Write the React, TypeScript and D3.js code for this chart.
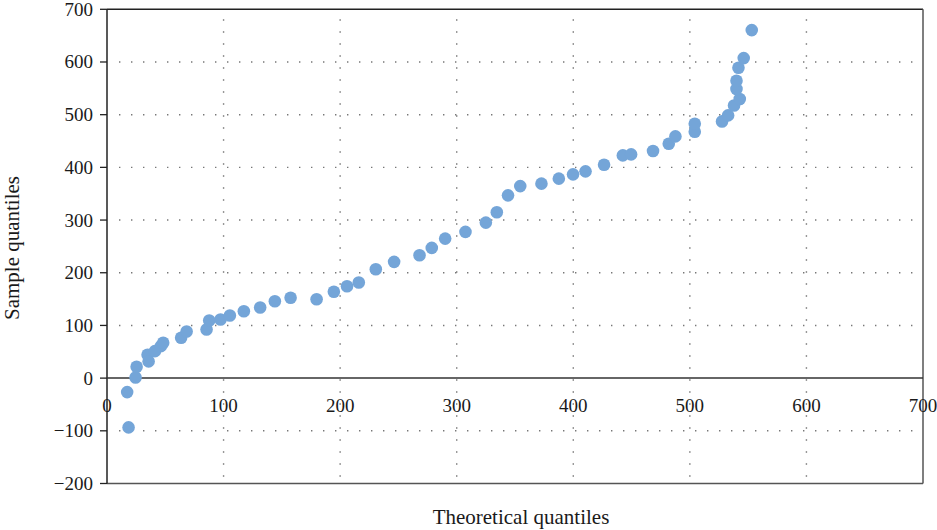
import React from "react";
import * as d3 from "d3";

// Q-Q plot: theoretical vs. sample quantiles
const theoretical = [
  17.3, 18.5, 24.5, 25.4, 34.8, 35.7, 41.1, 46.2, 48.2, 63.6, 68.3, 85.4, 87.7, 97.4,
  105.4, 117.4, 131.4, 144.0, 157.5, 179.8, 194.6, 205.9, 216.0, 230.6, 246.3, 268.1,
  278.6, 290.1, 307.5, 325.0, 334.4, 344.0, 354.5, 372.7, 387.6, 399.8, 410.5, 426.4,
  442.5, 449.6, 468.4, 481.9, 487.6, 504.2, 504.2, 527.6, 532.8, 537.9, 542.8, 540.0,
  540.0, 541.7, 546.2, 553.1,
];
const sample = [
  -26.5, -93.5, 1.3, 21.6, 44.4, 31.7, 51.2, 60.7, 67.1, 76.6, 88.5, 92.3, 109.4, 111.3,
  118.9, 127.0, 134.0, 146.0, 152.4, 149.8, 163.8, 174.4, 181.4, 206.6, 220.7, 233.2,
  247.2, 264.8, 277.5, 295.2, 314.7, 346.9, 364.4, 369.1, 378.6, 386.7, 392.4, 405.1,
  422.7, 424.6, 431.1, 444.9, 458.8, 467.7, 482.8, 487.2, 498.6, 517.5, 529.7, 548.6,
  564.4, 589.0, 607.4, 660.5,
];
const xTicks = [0, 100, 200, 300, 400, 500, 600, 700];
const yTicks = [-200, -100, 0, 100, 200, 300, 400, 500, 600, 700];
const xTitle = "Theoretical quantiles";
const yTitle = "Sample quantiles";

const W = 937;
const H = 530;
const FONT = "'Liberation Serif', 'DejaVu Serif', serif";

export default function App() {
  const x = d3.scaleLinear().domain([0, 700]).range([107, 923]);
  const y = d3.scaleLinear().domain([-200, 700]).range([483.5, 9.3]);
  const fmt = (v: number) => (v < 0 ? "\u2212" + Math.abs(v) : String(v));
  const [x0, x1] = x.range();
  const [yb, yt] = y.range();

  return (
    <svg
      width={W}
      height={H}
      style={{ position: "absolute", left: 0, top: 0, background: "#fff" }}
      fontFamily={FONT}
    >
      {/* dotted grid */}
      {yTicks
        .filter((t) => t !== 0 && t !== 700 && t !== -200)
        .map((t) => (
          <line
            key={"gy" + t}
            x1={x0 + 12}
            x2={x1 - 8}
            y1={y(t)}
            y2={y(t)}
            stroke="#777"
            strokeWidth={1.4}
            strokeDasharray="1.4 10.6"
          />
        ))}
      {xTicks
        .filter((t) => t !== 0 && t !== 700)
        .map((t) => (
          <line
            key={"gx" + t}
            x1={x(t)}
            x2={x(t)}
            y1={yt + 10}
            y2={yb}
            stroke="#777"
            strokeWidth={1.4}
            strokeDasharray="1.4 10.6"
          />
        ))}

      {/* frame */}
      <line x1={x0} x2={x1} y1={yt} y2={yt} stroke="#222" strokeWidth={1.5} />
      <line x1={x1} x2={x1} y1={yt} y2={yb} stroke="#555" strokeWidth={1.5} />
      <line x1={x0} x2={x1} y1={yb} y2={yb} stroke="#555" strokeWidth={1.5} />
      <line x1={x0} x2={x0} y1={yt} y2={yb} stroke="#222" strokeWidth={1.5} />
      <line x1={x0} x2={x1} y1={y(0)} y2={y(0)} stroke="#333" strokeWidth={1.5} />

      {/* y ticks and labels */}
      {yTicks.map((t) => (
        <g key={"ty" + t}>
          <line x1={x0 - 7} x2={x0} y1={y(t)} y2={y(t)} stroke="#222" strokeWidth={1.3} />
          <text
            x={x0 - 14}
            y={y(t)}
            dy="0.34em"
            textAnchor="end"
            fontSize={19}
            fill="#1a1a1a"
          >
            {fmt(t)}
          </text>
        </g>
      ))}

      {/* x labels */}
      {xTicks.map((t) => (
        <text
          key={"tx" + t}
          x={x(t)}
          y={y(0) + 27}
          dy="0.34em"
          textAnchor="middle"
          fontSize={19}
          fill="#1a1a1a"
        >
          {t}
        </text>
      ))}

      {/* points */}
      {theoretical.map((tv, i) => (
        <circle key={"p" + i} cx={x(tv)} cy={y(sample[i])} r={6.3} fill="#74a5d8" />
      ))}

      {/* axis titles */}
      <text
        x={521}
        y={517}
        dy="0.34em"
        textAnchor="middle"
        fontSize={21}
        fill="#1a1a1a"
      >
        {xTitle}
      </text>
      <text
        transform="translate(12,248) rotate(-90)"
        dy="0.34em"
        textAnchor="middle"
        fontSize={21}
        fill="#1a1a1a"
      >
        {yTitle}
      </text>
    </svg>
  );
}
